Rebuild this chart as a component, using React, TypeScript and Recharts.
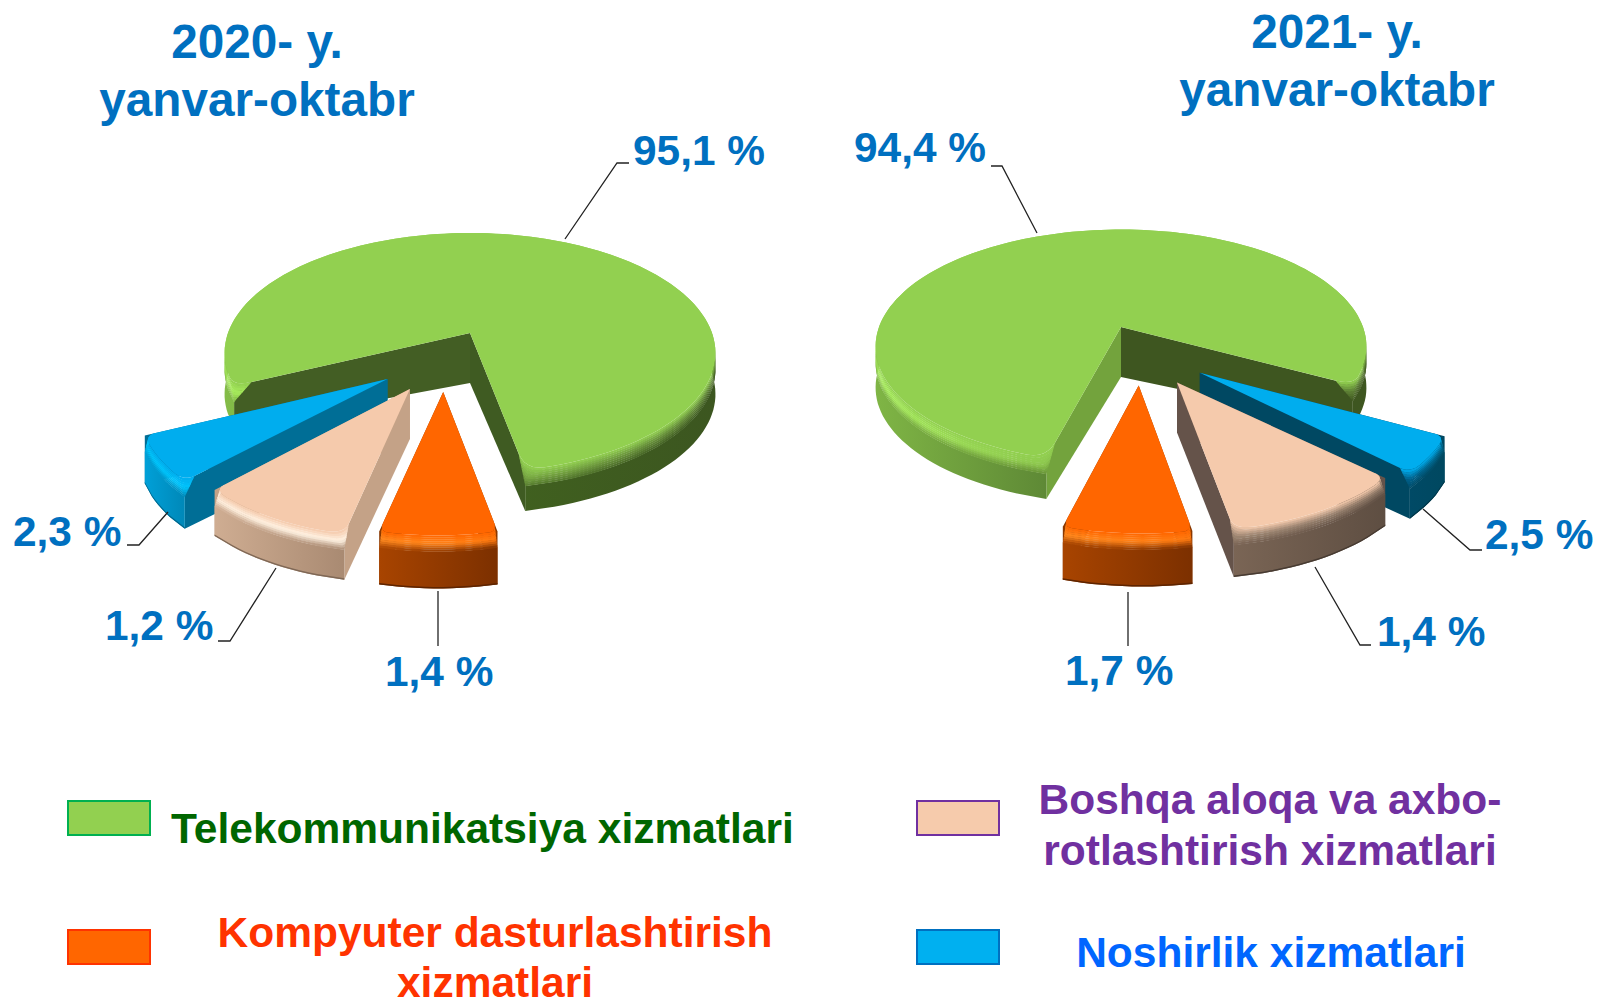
import { Pie, PieChart } from "recharts"

const FONT = "'Liberation Sans', Arial, sans-serif"
const BLUE_TEXT = "#0070C0"

const categories = [
  "Telekommunikatsiya xizmatlari",
  "Noshirlik xizmatlari",
  "Boshqa aloqa va axborotlashtirish xizmatlari",
  "Kompyuter dasturlashtirish xizmatlari",
]
const shares2020 = [95.1, 2.3, 1.2, 1.4]
const shares2021 = [94.4, 2.5, 1.4, 1.7]
// the slices in the reference are not to scale, so these are the drawn spans in degrees
const drawn2020 = [284, 21, 33, 22]
const drawn2021 = [283, 15, 38, 24]

const data2020 = categories.map((name, i) => ({ name, share: shares2020[i], drawn: drawn2020[i] }))
const data2021 = categories.map((name, i) => ({ name, share: shares2021[i], drawn: drawn2021[i] }))

const fmt = (v: number) => `${v.toFixed(1).replace(".", ",")} %`

const PERSPECTIVE = 0.1667
const APEX_DEPTH = 50

type Stop = [number, string]
type SliceStyle = {
  top: string
  bevelL: string
  bevelR: string
  side: Stop[]
  faceStart: string
  faceEnd: string
}

const green = "#92D050"
const style2020: SliceStyle[] = [
  {
    top: green,
    bevelL: "#A8EE5C",
    bevelR: "#5F8436",
    side: [[0, "#84BC48"], [0.1, "#7DB544"], [0.6, "#40601F"], [1, "#3C5620"]],
    faceStart: "#3F5B22",
    faceEnd: "#435E24",
  },
  {
    top: "#00ADEE",
    bevelL: "#00C8FF",
    bevelR: "#00C4FC",
    side: [[0, "#00A0D8"], [1, "#0088B8"]],
    faceStart: "#006E96",
    faceEnd: "#006E96",
  },
  {
    top: "#F5CAAC",
    bevelL: "#FFF0DF",
    bevelR: "#FFF2E2",
    side: [[0, "#CFAD92"], [1, "#A98A72"]],
    faceStart: "#C4A287",
    faceEnd: "#C4A287",
  },
  {
    top: "#FF6600",
    bevelL: "#FF8A20",
    bevelR: "#FF7A10",
    side: [[0, "#A84400"], [1, "#7C3000"]],
    faceStart: "#8A3800",
    faceEnd: "#8A3800",
  },
]
const style2021: SliceStyle[] = [
  {
    top: green,
    bevelL: "#A8EE5C",
    bevelR: "#5A7C33",
    side: [[0, "#7FB545"], [0.34, "#5F8A36"], [0.55, "#3E5620"], [1, "#3E5620"]],
    faceStart: "#73A33D",
    faceEnd: "#3E5620",
  },
  {
    top: "#00ADEE",
    bevelL: "#00608A",
    bevelR: "#006E96",
    side: [[0, "#004A66"], [1, "#004860"]],
    faceStart: "#004862",
    faceEnd: "#004862",
  },
  {
    top: "#F5CAAC",
    bevelL: "#A08874",
    bevelR: "#8E7866",
    side: [[0, "#7A6555"], [1, "#5E4E42"]],
    faceStart: "#65534A",
    faceEnd: "#65534A",
  },
  {
    top: "#FF6600",
    bevelL: "#FF8A20",
    bevelR: "#FF7A10",
    side: [[0, "#A84400"], [1, "#7C3000"]],
    faceStart: "#8A3800",
    faceEnd: "#8A3800",
  },
]

// per pie look: explode is how far a slice is pulled out, in plane units (1 = pie radius)
const look2020 = {
  prefix: "a",
  styles: style2020,
  squash: 0.482,
  explode: [[0, 0], [-0.32, -0.37], [-0.23, -0.444], [-0.102, -0.466]],
  radii: [1, 0.94, 0.91, 0.88],
  depths: [41, 48, 46, 53],
  widen: [[0, 0], [0, 0], [0, 0], [1.5, 1.5]],
}
const look2021 = {
  prefix: "b",
  styles: style2021,
  squash: 0.47,
  explode: [[0, 0], [0.305, -0.377], [0.214, -0.452], [0.0675, -0.474]],
  radii: [1, 0.96, 0.93, 0.92],
  depths: [41, 46, 48, 53],
  widen: [[0, 0], [0, 2], [0, 0], [1, 1]],
}

// leader line and label spots, screen px
const callouts2020 = [
  { line: [[565, 239], [617, 163], [629, 163]], x: 633, y: 165 },
  { line: [[168, 512], [139, 545], [127, 545]], x: 13, y: 546 },
  { line: [[276, 568], [230, 641], [218, 641]], x: 105, y: 640 },
  { line: [[438, 591], [438, 646]], x: 385, y: 686 },
]
const callouts2021 = [
  { line: [[1037, 233], [1002, 166], [991, 166]], x: 854, y: 162 },
  { line: [[1423, 509], [1470, 550], [1482, 550]], x: 1485, y: 549 },
  { line: [[1315, 567], [1360, 645], [1371, 645]], x: 1377, y: 646 },
  { line: [[1128, 592], [1128, 646]], x: 1065, y: 685 },
]

const hex = (c: string) => [1, 3, 5].map((i) => parseInt(c.slice(i, i + 2), 16))
const mix = (a: string, b: string, t: number) => {
  const ca = hex(a)
  const cb = hex(b)
  return `rgb(${ca.map((v, i) => Math.round(v + (cb[i] - v) * t)).join(",")})`
}
const toPath = (pts: number[][]) =>
  "M" + pts.map((p) => `${p[0].toFixed(1)},${p[1].toFixed(1)}`).join("L") + "Z"

// samples a rounded corner at c, going from a to b
const corner = (a: number[], c: number[], b: number[]) => {
  const out: number[][] = []
  for (let i = 0; i <= 6; i++) {
    const t = i / 6
    const s = 1 - t
    out.push([
      s * s * a[0] + 2 * s * t * c[0] + t * t * b[0],
      s * s * a[1] + 2 * s * t * c[1] + t * t * b[1],
    ])
  }
  return out
}

function Slice3D(props: any) {
  const { cx, cy, outerRadius, startAngle, endAngle, index, look } = props
  const st: SliceStyle = look.styles[index]
  const [ou, ov] = look.explode[index]
  const r = look.radii[index]
  const project = (u: number, v: number) => {
    const w = 1 + PERSPECTIVE * v
    return [cx + (outerRadius * u) / w, cy - (outerRadius * look.squash * v) / w]
  }
  const dir = endAngle > startAngle ? 1 : -1
  const a0 = startAngle - dir * look.widen[index][0]
  const a1 = endAngle + dir * look.widen[index][1]
  const n = Math.max(8, Math.ceil(Math.abs(a1 - a0) / 2))
  const rim: number[][] = []
  for (let i = 0; i <= n; i++) {
    const a = ((a0 + ((a1 - a0) * i) / n) * Math.PI) / 180
    rim.push(project(ou + r * Math.cos(a), ov + r * Math.sin(a)))
  }
  const apex = project(ou, ov)
  const depth = look.depths[index]
  const apexBottom = [apex[0], apex[1] + APEX_DEPTH]

  const bevelH = 16
  const steps = 8

  // the rim is soft at the top and its corners sharpen as the bevel runs down into the side
  const round = index === 0 ? 18 : 11
  const stepLen = Math.hypot(rim[1][0] - rim[0][0], rim[1][1] - rim[0][1])
  const m = Math.min(Math.floor((n - 1) / 2), Math.max(1, Math.round(round / stepLen)))
  const lerp = (a: number[], b: number[], t: number) => [a[0] + (b[0] - a[0]) * t, a[1] + (b[1] - a[1]) * t]
  const onEdge = (c: number, d: number) => {
    const e = rim[c]
    const len = Math.hypot(apex[0] - e[0], apex[1] - e[1])
    return lerp(e, apex, d / len)
  }
  const outlineAt = (z: number) => {
    const f = Math.max(0, 1 - z / bevelH)
    const d = round * f
    const pts = [
      ...corner(onEdge(0, d), rim[0], lerp(rim[0], rim[m], f)),
      ...rim.slice(m + 1, n - m),
      ...corner(lerp(rim[n], rim[n - m], f), rim[n], onEdge(n, d)),
    ]
    return pts.map((p) => [p[0], p[1] + z])
  }
  const band = (z1: number, z2: number) => toPath([...outlineAt(z1), ...outlineAt(z2).reverse()])
  const face = (e: number[]) => toPath([apex, e, [e[0], e[1] + depth], apexBottom])

  const xs = rim.map((p) => p[0])
  const x1 = Math.min(...xs)
  const x2 = Math.max(...xs)
  const ramp = (t: number, bevel: string, sideC: string) =>
    t < 0.5 ? mix(st.top, bevel, t * 2) : mix(bevel, sideC, (t - 0.5) * 2)
  const sideL = st.side[0][1]
  const sideR = st.side[st.side.length - 1][1]
  const id = `${look.prefix}-${index}`

  return (
    <g>
      <defs>
        <linearGradient id={`${id}-side`} gradientUnits="userSpaceOnUse" x1={x1} x2={x2} y1={0} y2={0}>
          {st.side.map(([o, c]) => (
            <stop key={o} offset={o} stopColor={c} />
          ))}
        </linearGradient>
        {Array.from({ length: steps }, (_, i) => {
          const t = (i + 0.5) / steps
          return (
            <linearGradient key={i} id={`${id}-b${i}`} gradientUnits="userSpaceOnUse" x1={x1} x2={x2} y1={0} y2={0}>
              <stop offset={0} stopColor={ramp(t, st.bevelL, sideL)} />
              <stop offset={1} stopColor={ramp(t, st.bevelR, sideR)} />
            </linearGradient>
          )
        })}
      </defs>
      <path d={face(rim[0])} fill={st.faceStart} />
      <path d={face(rim[n])} fill={st.faceEnd} />
      <path d={band(bevelH, depth)} fill={`url(#${id}-side)`} />
      {index > 0 && <path d={band(depth - 1.5, depth)} fill={mix(sideR, "#000000", 0.25)} />}
      {Array.from({ length: steps }, (_, i) => (
        <path
          key={i}
          d={band((bevelH * i) / steps, (bevelH * (i + 1.2)) / steps)}
          fill={`url(#${id}-b${i})`}
        />
      ))}
      <path d={toPath([apex, ...outlineAt(0)])} fill={st.top} />
    </g>
  )
}

function Callout(props: any) {
  const { index, payload, spots } = props
  const spot = spots[index]
  return (
    <g>
      <polyline
        points={spot.line.map((p: number[]) => p.join(",")).join(" ")}
        fill="none"
        stroke="#222"
        strokeWidth={1.3}
      />
      <text x={spot.x} y={spot.y} fontFamily={FONT} fontWeight="bold" fontSize={42.4} fill={BLUE_TEXT}>
        {fmt(payload.share)}
      </text>
    </g>
  )
}

const Title = ({ x, y, year }: { x: number; y: number; year: string }) => (
  <text textAnchor="middle" fontFamily={FONT} fontWeight="bold" fontSize={47.7} fill={BLUE_TEXT}>
    <tspan x={x} y={y}>{year}</tspan>
    <tspan x={x} y={y + 58}>yanvar-oktabr</tspan>
  </text>
)

const LegendItem = ({ x, y, fill, stroke }: { x: number; y: number; fill: string; stroke: string }) => (
  <rect x={x} y={y} width={82} height={34} fill={fill} stroke={stroke} strokeWidth={2} />
)

const LegendText = ({ lines, color, anchor = "middle" }: { lines: [string, number, number][]; color: string; anchor?: string }) => (
  <text fontFamily={FONT} fontWeight="bold" fontSize={42.5} fill={color} textAnchor={anchor}>
    {lines.map(([t, x, y]) => (
      <tspan key={t} x={x} y={y}>{t}</tspan>
    ))}
  </text>
)

export default function App() {
  return (
    <div style={{ position: "absolute", left: 0, top: 0, width: 1597, height: 1000, background: "#fff" }}>
      <PieChart width={1597} height={1000} margin={{ top: 0, right: 0, bottom: 0, left: 0 }}>
        <Pie
          data={data2020}
          dataKey="drawn"
          nameKey="name"
          cx={470}
          cy={333}
          outerRadius={242}
          startAngle={281}
          endAngle={641}
          stroke="none"
          isAnimationActive={false}
          shape={(p: any) => <Slice3D {...p} look={look2020} />}
          label={(p: any) => <Callout {...p} spots={callouts2020} />}
          labelLine={false}
        />
        <Pie
          data={data2021}
          dataKey="drawn"
          nameKey="name"
          cx={1121}
          cy={327}
          outerRadius={242}
          startAngle={255}
          endAngle={-105}
          stroke="none"
          isAnimationActive={false}
          shape={(p: any) => <Slice3D {...p} look={look2021} />}
          label={(p: any) => <Callout {...p} spots={callouts2021} />}
          labelLine={false}
        />
        <Title x={257} y={58} year="2020- y." />
        <Title x={1337} y={48} year="2021- y." />
        <LegendItem x={68} y={801} fill={green} stroke="#00B050" />
        <LegendItem x={68} y={930} fill="#FF6600" stroke="#FF3300" />
        <LegendItem x={917} y={801} fill="#F6CBAC" stroke="#7030A0" />
        <LegendItem x={917} y={930} fill="#00B0F0" stroke="#0070C0" />
        <LegendText lines={[["Telekommunikatsiya xizmatlari", 171, 843]]} color="#006600" anchor="start" />
        <LegendText lines={[["Kompyuter dasturlashtirish", 495, 947], ["xizmatlari", 495, 997]]} color="#FF3300" />
        <LegendText lines={[["Boshqa aloqa va axbo-", 1270, 814], ["rotlashtirish xizmatlari", 1270, 865]]} color="#7030A0" />
        <LegendText lines={[["Noshirlik xizmatlari", 1271, 967]]} color="#0066FF" />
      </PieChart>
    </div>
  )
}
